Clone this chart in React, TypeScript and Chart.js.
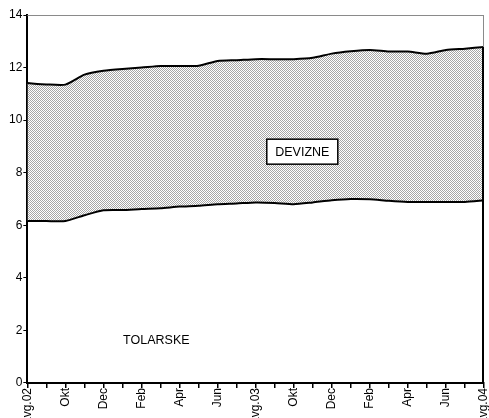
import React, { useEffect, useRef } from "react";
import { Chart, registerables } from "chart.js";

Chart.register(...registerables);

const months = [
  "avg.02", "Sep", "Okt", "Nov", "Dec", "Jan", "Feb", "Mar", "Apr", "Maj", "Jun", "Jul",
  "avg.03", "Sep", "Okt", "Nov", "Dec", "Jan", "Feb", "Mar", "Apr", "Maj", "Jun", "Jul",
  "avg.04",
];

// lower line: tolarske (tolar) amount
const tolarske = [
  6.16, 6.16, 6.16, 6.38, 6.57, 6.58, 6.62, 6.65, 6.71, 6.74, 6.8, 6.83, 6.87,
  6.85, 6.8, 6.87, 6.95, 7.0, 6.99, 6.93, 6.89, 6.89, 6.89, 6.89, 6.95,
];

// upper line: tolarske + devizne (total)
const skupaj = [
  11.41, 11.36, 11.35, 11.73, 11.88, 11.95, 12.0, 12.06, 12.06, 12.07, 12.25, 12.28,
  12.32, 12.32, 12.32, 12.37, 12.53, 12.62, 12.67, 12.61, 12.61, 12.53, 12.67, 12.72,
  12.78,
];

const yTicks = [0, 2, 4, 6, 8, 10, 12, 14];

const labelDevizne = { text: "DEVIZNE", xIndex: 14.45, yValue: 8.8 };
const labelTolarske = { text: "TOLARSKE", xIndex: 6.78, yValue: 1.63 };

const FONT = 'Arial, "Liberation Sans", sans-serif';

function makePattern(): CanvasPattern | string {
  const c = document.createElement("canvas");
  c.width = 2;
  c.height = 2;
  const ctx = c.getContext("2d");
  if (!ctx) return "#ccc";
  ctx.fillStyle = "#ffffff";
  ctx.fillRect(0, 0, 2, 2);
  ctx.fillStyle = "#a6a6a6";
  ctx.fillRect(0, 0, 1, 1);
  ctx.fillRect(1, 1, 1, 1);
  const p = ctx.createPattern(c, "repeat");
  return p || "#ccc";
}

const framePlugin = {
  id: "frameAndLabels",
  afterDatasetsDraw(chart: any) {
    const { ctx, chartArea, scales } = chart;
    const xs = scales.x;
    const ys = scales.y;
    ctx.save();
    // gray frame top & right
    ctx.strokeStyle = "#8a8a8a";
    ctx.lineWidth = 1;
    ctx.beginPath();
    ctx.moveTo(chartArea.left, chartArea.top + 0.5);
    ctx.lineTo(chartArea.right, chartArea.top + 0.5);
    ctx.moveTo(chartArea.right - 0.5, chartArea.top);
    ctx.lineTo(chartArea.right - 0.5, chartArea.bottom);
    ctx.stroke();
    // black right edge of the area
    const last = skupaj.length - 1;
    const xr = xs.getPixelForValue(last);
    ctx.strokeStyle = "#000";
    ctx.lineWidth = 2;
    ctx.beginPath();
    ctx.moveTo(xr - 1, ys.getPixelForValue(0));
    ctx.lineTo(xr - 1, ys.getPixelForValue(skupaj[last]));
    ctx.stroke();

    // text labels
    ctx.font = `12.5px ${FONT}`;
    ctx.textAlign = "center";
    ctx.textBaseline = "middle";
    const dx = xs.getPixelForValue(labelDevizne.xIndex);
    const dy = ys.getPixelForValue(labelDevizne.yValue);
    const w = 71;
    const h = 25;
    ctx.fillStyle = "#fff";
    ctx.fillRect(dx - w / 2, dy - h / 2, w, h);
    ctx.strokeStyle = "#000";
    ctx.lineWidth = 1.5;
    ctx.strokeRect(dx - w / 2, dy - h / 2, w, h);
    ctx.fillStyle = "#000";
    ctx.fillText(labelDevizne.text, dx, dy + 0.5);

    const tx = xs.getPixelForValue(labelTolarske.xIndex);
    const ty = ys.getPixelForValue(labelTolarske.yValue);
    ctx.fillText(labelTolarske.text, tx, ty);
    ctx.restore();
  },
};

export default function App() {
  const ref = useRef<HTMLCanvasElement | null>(null);

  useEffect(() => {
    if (!ref.current) return;
    const pattern = makePattern();
    const chart = new Chart(ref.current, {
      type: "line",
      data: {
        labels: months,
        datasets: [
          {
            label: "TOLARSKE",
            data: tolarske,
            borderColor: "#000",
            borderWidth: 2,
            pointRadius: 0,
            fill: false,
            tension: 0.2,
          },
          {
            label: "DEVIZNE",
            data: skupaj,
            borderColor: "#000",
            borderWidth: 2,
            pointRadius: 0,
            fill: "-1",
            backgroundColor: pattern as any,
            tension: 0.2,
          },
        ],
      },
      options: {
        animation: false,
        responsive: true,
        maintainAspectRatio: false,
        layout: { padding: { left: 8, right: 5, top: 15, bottom: 0 } },
        plugins: {
          legend: { display: false },
          tooltip: { enabled: false },
          filler: { propagate: false },
        },
        scales: {
          x: {
            type: "category",
            offset: false,
            afterFit: (s: any) => {
              s.paddingLeft = 0;
              s.paddingRight = 0;
            },
            grid: {
              display: true,
              drawOnChartArea: false,
              drawTicks: true,
              tickLength: 5,
              color: "#000",
              lineWidth: 1.5,
            },
            border: { display: true, color: "#000", width: 2 },
            ticks: {
              autoSkip: false,
              minRotation: 90,
              maxRotation: 90,
              padding: 0,
              color: "#000",
              font: { family: FONT, size: 12 },
              callback: (_v: any, i: number) => (i % 2 === 0 ? months[i] : ""),
            },
          },
          y: {
            min: 0,
            max: 14,
            afterBuildTicks: (axis: any) => {
              axis.ticks = yTicks.map((v) => ({ value: v }));
            },
            grid: {
              display: true,
              drawOnChartArea: false,
              drawTicks: true,
              tickLength: 4,
              color: "#000",
              lineWidth: 1,
            },
            border: { display: true, color: "#000", width: 2 },
            ticks: {
              padding: 1,
              color: "#000",
              font: { family: FONT, size: 12 },
            },
          },
        },
      },
      plugins: [framePlugin],
    });
    return () => chart.destroy();
  }, []);

  return (
    <div
      style={{
        position: "fixed",
        left: 0,
        top: 0,
        width: 489,
        height: 418,
        overflow: "hidden",
        background: "#fff",
      }}
    >
      <div style={{ position: "relative", width: 489, height: 424 }}>
        <canvas ref={ref} />
      </div>
    </div>
  );
}
